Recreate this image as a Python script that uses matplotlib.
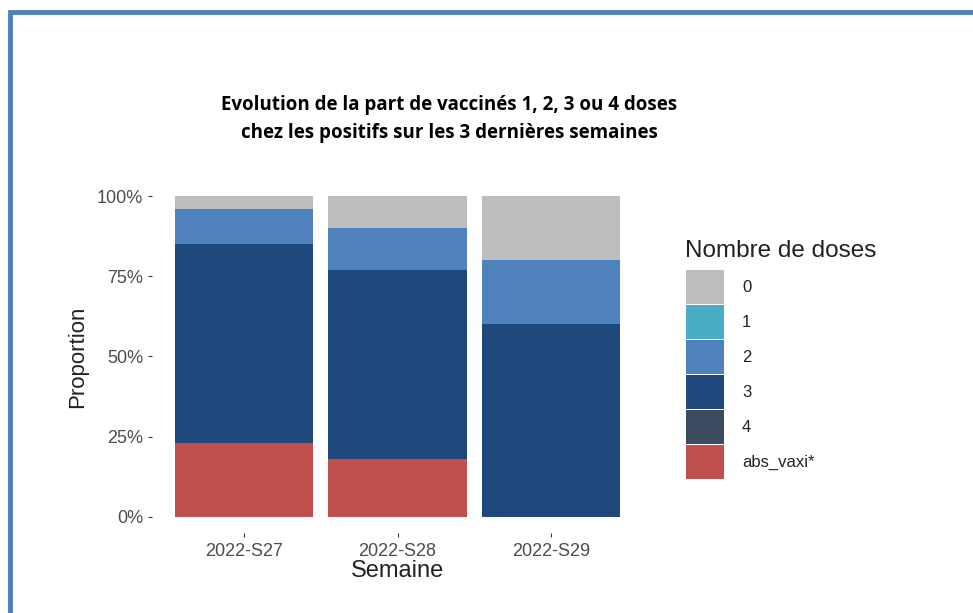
import matplotlib.pyplot as plt
from matplotlib.patches import Rectangle
import numpy as np

# data
weeks = ["2022-S27", "2022-S28", "2022-S29"]
doses = ["0", "1", "2", "3", "4", "abs_vaxi*"]
colors = ["#BEBEBE", "#4BACC6", "#4F81BD", "#1F497D", "#3B4A5E", "#C0504D"]
share_0 = [0.04, 0.10, 0.20]
share_1 = [0.0, 0.0, 0.0]
share_2 = [0.11, 0.13, 0.20]
share_3 = [0.62, 0.59, 0.60]
share_4 = [0.0, 0.0, 0.0]
share_abs = [0.23, 0.18, 0.0]

plt.rcParams["font.family"] = ["Liberation Sans", "DejaVu Sans"]

W, H = 973, 613
fig = plt.figure(figsize=(W / 100, H / 100), dpi=100)


def fx(px):
    return px / W


def fy(py):
    return 1 - py / H


# blue frame around the picture
fig.add_artist(Rectangle((fx(10), fy(H + 20)), fx(W + 20), fy(12) - fy(H + 20),
                         transform=fig.transFigure, fill=False,
                         edgecolor="#4F81BD", linewidth=3.5))

ax = fig.add_axes([fx(152), fy(533), fx(643) - fx(152), fy(180) - fy(533)])
x = np.arange(len(weeks))
# stack from bottom: abs_vaxi*, 4, 3, 2, 1, 0
stack = [share_abs, share_4, share_3, share_2, share_1, share_0]
stack_cols = colors[::-1]
bottom = np.zeros(len(weeks))
for vals, c in zip(stack, stack_cols):
    vals = np.array(vals)
    ax.bar(x, vals, bottom=bottom, width=0.9, color=c, linewidth=0)
    bottom += vals

ax.set_xlim(-0.6, len(weeks) - 0.4)
ax.set_ylim(-0.05, 1.05)
ax.set_yticks([0, 0.25, 0.5, 0.75, 1.0])
ax.set_yticklabels(["0%", "25%", "50%", "75%", "100%"])
ax.set_xticks(x)
ax.set_xticklabels(weeks)
for s in ax.spines.values():
    s.set_visible(False)
ax.tick_params(colors="#333333", labelcolor="#4D4D4D", labelsize=13, length=3,
               width=0.8)
ax.tick_params(axis="x", pad=4)
ax.set_xlabel("Semaine", fontsize=17, color="#222222", labelpad=0)
ax.set_ylabel("Proportion", fontsize=16, color="#222222", labelpad=6)

fig.text(fx(449), fy(119), "Evolution de la part de vaccinés 1, 2, 3 ou 4 doses\n"
         "chez les positifs sur les 3 dernières semaines",
         ha="center", va="center", fontsize=13.5, fontweight="bold",
         family="Open Sans", linespacing=1.5)

# legend drawn by hand, ggplot style
fig.text(fx(685), fy(251), "Nombre de doses", fontsize=17.5, color="#222222",
         va="center", ha="left")
key_top = 270
key_h = 35
for i, (lab, c) in enumerate(zip(doses, colors)):
    top = key_top + i * key_h
    fig.add_artist(Rectangle((fx(686), fy(top + key_h - 1.5)), fx(38),
                             fy(top) - fy(top + key_h - 1.5),
                             transform=fig.transFigure, color=c, linewidth=0))
    fig.text(fx(742), fy(top + key_h / 2), lab, fontsize=12, color="#222222",
             va="center", ha="left")

fig.savefig("out.png", dpi=100)
